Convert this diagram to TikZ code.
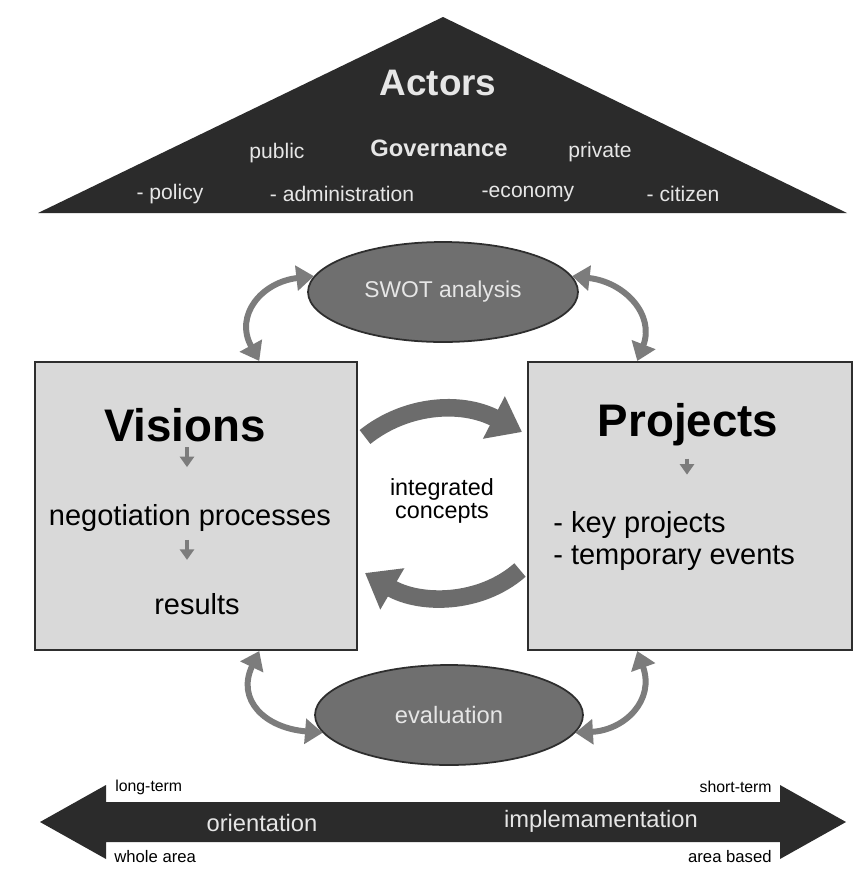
\documentclass[tikz,border=0pt]{standalone}
\usepackage{fontspec}
\setmainfont{Liberation Sans}
\usetikzlibrary{arrows.meta,shapes.geometric,calc}
\definecolor{tridark}{HTML}{2B2B2B}
\definecolor{lighttxt}{HTML}{E6E6E6}
\definecolor{ellfill}{HTML}{6F6F6F}
\definecolor{boxfill}{HTML}{D9D9D9}
\definecolor{edge}{HTML}{2E2E2E}
\definecolor{arrgray}{HTML}{7C7C7C}
\definecolor{midgray}{HTML}{6C6C6C}
\tikzset{
  fs/.style={font=\fontsize{#1}{#1}\selectfont},
  ovalbox/.style={ellipse, draw=edge, line width=1pt, fill=ellfill, minimum width=5.4cm, minimum height=2cm, text=lighttxt},
  mainbox/.style={rectangle, draw=edge, line width=1.2pt, fill=boxfill, minimum width=6.44cm, minimum height=5.76cm},
  cyc/.style={draw=arrgray, line width=3.4pt, {Triangle[width=14pt,length=10pt]}-{Triangle[width=14pt,length=10pt]}},
  bigcurve/.style={draw=midgray, line width=10pt, -{Triangle[width=26pt,length=18pt]}},
  smallarr/.style={draw=arrgray, line width=2pt, -{Triangle[width=8pt,length=6pt]}},
  wt/.style={text=lighttxt, inner sep=0pt},
  dt/.style={text=black, inner sep=0pt},
}
\begin{document}
\begin{tikzpicture}[x=0.02cm, y=-0.02cm]
\useasboundingbox (0,0) rectangle (857,893);
\fill[white] (0,0) rectangle (857,893);
% actors triangle
\coordinate (apex) at (443,17);
\coordinate (bl) at (38,213);
\coordinate (br) at (847,213);
\fill[tridark] (apex) -- (br) -- (bl) -- cycle;
\node[wt, font=\bfseries\fontsize{21}{21}\selectfont] (actors) at (438,83) {Actors};
\node[wt, font=\bfseries\fontsize{13.5}{13.5}\selectfont] (gov) at (439,148) {Governance};
\node[wt, fs=12] (public) at (277,153) {public};
\node[wt, fs=12] (private) at (600,152) {private};
\node[wt, fs=12] (policy) at (170,194) {- policy};
\node[wt, fs=12] (admin) at (342,194) {- administration};
\node[wt, fs=12] (econ) at (528,194) {-economy};
\node[wt, fs=12] (citizen) at (683,194) {- citizen};
% SWOT
\node[ovalbox, fs=13] (swot) at (443,292) {SWOT analysis};
% boxes
\node[mainbox] (vis) at (196,506) {};
\node[mainbox, minimum width=6.48cm] (proj) at (690,506) {};
\node[dt, font=\bfseries\fontsize{26}{26}\selectfont] (vtitle) at (185,425) {Visions};
\node[dt, fs=16.5] (vneg) at (190,518) {negotiation processes};
\node[dt, fs=16.5] (vres) at (197,604) {results};
\draw[smallarr] (vtitle.south -| 187,0) ++(0,5) -- ++(0,20);
\draw[smallarr] (vneg.south -| 187,0) ++(0,8) -- ++(0,20);
\node[dt, font=\bfseries\fontsize{26}{26}\selectfont] (ptitle) at (688,425) {Projects};
\node[dt, fs=16.5, align=left, anchor=west] (plist) at (553,541) {- key projects\\[2pt]- temporary events};
\draw[smallarr] (ptitle.south -| 687,0) ++(0,12) -- ++(0,16);
% middle
\node[dt, fs=13.3, align=center] (integ) at (442,501) {integrated\\concepts};
\coordinate (mt1) at (365,437);
\coordinate (mt2) at (522,432);
\coordinate (mb1) at (520,570);
\coordinate (mb2) at (365,573);
\draw[bigcurve] (mt1) .. controls (405,405) and (460,400) .. (mt2);
\draw[bigcurve] (mb1) .. controls (480,605) and (420,605) .. (mb2);
% evaluation
\node[ovalbox, minimum width=5.36cm, fs=13.5] (eval) at (449,715) {evaluation};
% cycle arrows
\draw[cyc] (swot.173) .. controls (262,282) and (234,315) .. ([xshift=36]vis.north);
\draw[cyc] (swot.7) .. controls (625,282) and (655,315) .. ([xshift=-30]proj.north);
\draw[cyc] ([xshift=36]vis.south) .. controls (236,700) and (265,728) .. (eval.188);
\draw[cyc] ([xshift=-30]proj.south) .. controls (655,700) and (625,730) .. (eval.352);
% bottom arrow
\coordinate (ltip) at (40,822);
\coordinate (rtip) at (846,822);
\fill[tridark] (ltip) -- (106,785) -- (106,802) -- (780,802) -- (780,785) -- (rtip) -- (780,859) -- (780,842) -- (106,842) -- (106,859) -- cycle;
\node[wt, fs=13.5] (orient) at (262,823) {orientation};
\node[wt, fs=13.5] (impl) at (601,821) {implemamentation};
\node[dt, fs=9, anchor=west] (lt) at (115,787) {long-term};
\node[dt, fs=9, anchor=east] (st) at (772,787) {short-term};
\node[dt, fs=9.5, anchor=west] (wa) at (114,857) {whole area};
\node[dt, fs=9.5, anchor=east] (ab) at (772,857) {area based};
\end{tikzpicture}
\end{document}
